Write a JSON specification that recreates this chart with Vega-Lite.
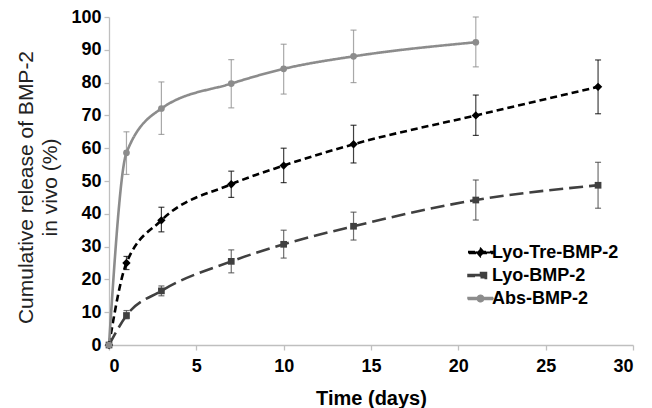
{
  "$schema": "https://vega.github.io/schema/vega-lite/v6.json",
  "width": 524,
  "height": 328,
  "autosize": "none",
  "padding": {"left": 109, "top": 17, "right": 19, "bottom": 63},
  "background": "white",
  "config": {
    "font": "Liberation Sans",
    "view": {"stroke": null},
    "axis": {"grid": false, "domainColor": "#bfbfbf", "tickColor": "#bfbfbf", "domainWidth": 1.3, "tickWidth": 1.3, "tickSize": 5, "labelFont": "Liberation Sans", "labelFontWeight": "bold", "labelFontSize": 18, "labelColor": "#000000", "titleColor": "#000000"}
  },
  "data": {"values": [
    {"series": "Lyo-Tre-BMP-2", "day": 0, "y": 0, "lo": 0, "hi": 0},
    {"series": "Lyo-Tre-BMP-2", "day": 1, "y": 25, "lo": 23, "hi": 27},
    {"series": "Lyo-Tre-BMP-2", "day": 3, "y": 38, "lo": 34.5, "hi": 42},
    {"series": "Lyo-Tre-BMP-2", "day": 7, "y": 49, "lo": 45, "hi": 53},
    {"series": "Lyo-Tre-BMP-2", "day": 10, "y": 54.7, "lo": 49.5, "hi": 60},
    {"series": "Lyo-Tre-BMP-2", "day": 14, "y": 61.2, "lo": 55.5, "hi": 67},
    {"series": "Lyo-Tre-BMP-2", "day": 21, "y": 70, "lo": 63.9, "hi": 76.2},
    {"series": "Lyo-Tre-BMP-2", "day": 28, "y": 78.7, "lo": 70.5, "hi": 86.9},
    {"series": "Lyo-BMP-2", "day": 0, "y": 0, "lo": 0, "hi": 0},
    {"series": "Lyo-BMP-2", "day": 1, "y": 9, "lo": 8, "hi": 10.5},
    {"series": "Lyo-BMP-2", "day": 3, "y": 16.5, "lo": 15, "hi": 18},
    {"series": "Lyo-BMP-2", "day": 7, "y": 25.5, "lo": 22, "hi": 29},
    {"series": "Lyo-BMP-2", "day": 10, "y": 30.7, "lo": 26.5, "hi": 35},
    {"series": "Lyo-BMP-2", "day": 14, "y": 36.2, "lo": 32, "hi": 40.5},
    {"series": "Lyo-BMP-2", "day": 21, "y": 44.2, "lo": 38.1, "hi": 50.3},
    {"series": "Lyo-BMP-2", "day": 28, "y": 48.7, "lo": 41.7, "hi": 55.7},
    {"series": "Abs-BMP-2", "day": 0, "y": 0, "lo": 0, "hi": 0},
    {"series": "Abs-BMP-2", "day": 1, "y": 58.6, "lo": 52, "hi": 65},
    {"series": "Abs-BMP-2", "day": 3, "y": 72.1, "lo": 64.2, "hi": 80.2},
    {"series": "Abs-BMP-2", "day": 7, "y": 79.7, "lo": 72.3, "hi": 87},
    {"series": "Abs-BMP-2", "day": 10, "y": 84.2, "lo": 76.5, "hi": 91.7},
    {"series": "Abs-BMP-2", "day": 14, "y": 88, "lo": 80, "hi": 96},
    {"series": "Abs-BMP-2", "day": 21, "y": 92.3, "lo": 84.8, "hi": 100}
  ]},
  "encoding": {
    "x": {"field": "day", "type": "quantitative", "scale": {"domain": [0, 30], "nice": false},
      "axis": {"values": [0, 5, 10, 15, 20, 25, 30], "title": "Time (days)", "titleFontSize": 20, "titleFontWeight": "bold", "titlePadding": 13, "labelPadding": 7}},
    "y": {"field": "y", "type": "quantitative", "scale": {"domain": [0, 100], "nice": false},
      "axis": {"values": [0, 10, 20, 30, 40, 50, 60, 70, 80, 90, 100], "labelPadding": 3, "title": ["Cumulative release of BMP-2", "in vivo (%)"], "titleFontSize": 21, "titleFontWeight": "normal", "titleLineHeight": 24, "titleColor": "#222222", "titleX": -73, "titleY": 170}}
  },
  "layer": [
    {
      "transform": [{"filter": "datum.day < 0"}],
      "mark": {"type": "point", "filled": true, "opacity": 1},
      "encoding": {
        "color": {"field": "series", "type": "nominal", "scale": {"domain": ["Lyo-Tre-BMP-2", "Lyo-BMP-2", "Abs-BMP-2"], "range": ["#000000", "#404040", "#8c8c8c"]},
          "legend": {"title": null, "orient": "none", "legendX": 358, "legendY": 222, "padding": 0, "symbolSize": 625, "labelFontSize": 18, "labelFontWeight": "bold", "labelColor": "#000000", "labelOffset": -2, "rowPadding": -6}},
        "shape": {"field": "series", "type": "nominal",
          "scale": {"domain": ["Lyo-Tre-BMP-2", "Lyo-BMP-2", "Abs-BMP-2"], "range": [
            "M-1,-0.08H1V0.08H-1ZM0,-0.34L0.3,0L0,0.34L-0.3,0Z",
            "M-1,-0.08H0V0.08H-1ZM0,-0.24H0.48V0.24H0Z",
            "M-1,-0.08H1V0.08H-1ZM-0.26,0A0.26,0.26 0 1,1 0.26,0A0.26,0.26 0 1,1 -0.26,0Z"]},
          "legend": {"title": null, "orient": "none", "legendX": 358, "legendY": 222, "padding": 0, "symbolSize": 625, "labelFontSize": 18, "labelFontWeight": "bold", "labelColor": "#000000", "labelOffset": -2, "rowPadding": -6}}
      }
    },
    {
      "transform": [{"filter": "datum.day > 0"}],
      "mark": {"type": "errorbar", "ticks": {"size": 6}, "thickness": 1.2, "opacity": 0.75},
      "encoding": {
        "y": {"field": "lo", "type": "quantitative", "axis": {"values": [0, 10, 20, 30, 40, 50, 60, 70, 80, 90, 100], "labelPadding": 3, "title": ["Cumulative release of BMP-2", "in vivo (%)"], "titleFontSize": 21, "titleFontWeight": "normal", "titleLineHeight": 24, "titleColor": "#222222", "titleX": -73, "titleY": 170}},
        "y2": {"field": "hi"},
        "color": {"field": "series", "type": "nominal"}
      }
    },
    {
      "mark": {"type": "line", "interpolate": "monotone", "strokeWidth": 2.6},
      "encoding": {
        "color": {"field": "series", "type": "nominal"},
        "strokeDash": {"field": "series", "type": "nominal", "legend": null, "scale": {"domain": ["Lyo-Tre-BMP-2", "Lyo-BMP-2", "Abs-BMP-2"], "range": [[7, 4], [14, 6], [1, 0]]}}
      }
    },
    {
      "transform": [{"filter": "datum.series === 'Lyo-Tre-BMP-2'"}],
      "mark": {"type": "point", "filled": true, "shape": "diamond", "size": 70, "opacity": 1},
      "encoding": {"color": {"field": "series", "type": "nominal"}}
    },
    {
      "transform": [{"filter": "datum.series === 'Lyo-BMP-2'"}],
      "mark": {"type": "point", "filled": true, "shape": "square", "size": 45, "opacity": 1},
      "encoding": {"color": {"field": "series", "type": "nominal"}}
    },
    {
      "transform": [{"filter": "datum.series === 'Abs-BMP-2'"}],
      "mark": {"type": "point", "filled": true, "shape": "circle", "size": 45, "opacity": 1},
      "encoding": {"color": {"field": "series", "type": "nominal"}}
    }
  ]
}
